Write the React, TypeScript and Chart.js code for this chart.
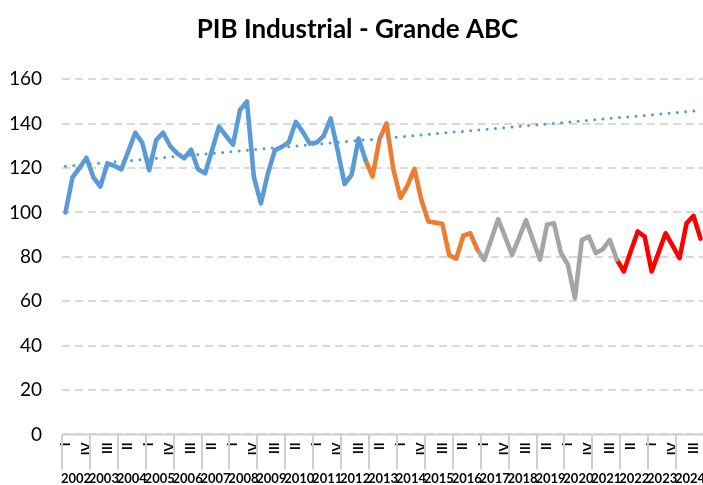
import React, { useEffect, useRef } from 'react';
import { Chart, registerables } from 'chart.js';

Chart.register(...registerables);

const years = ['2002', '2003', '2004', '2005', '2006', '2007', '2008', '2009', '2010', '2011', '2012', '2013', '2014', '2015', '2016', '2017', '2018', '2019', '2020', '2021', '2022', '2023', '2024'];
const quarters = ['I', 'II', 'III', 'IV'];

// Segment 1 (blue): 2002-I .. 2012-IV
const blueStart = 0;
const blueValues = [100, 115.8, 120, 124.6, 115.8, 111.6, 122, 121, 119.4, 127.5, 135.9, 131.4, 119, 132.6, 135.9, 129.9, 126.6, 124.4, 128.2, 119.4, 117.6, 128, 138.6, 134.5, 130.5, 146, 150, 116, 104, 117.5, 128, 129.5, 131.6, 140.8, 136.3, 131, 131.5, 134.5, 142.3, 128, 112.8, 116.9, 133.3, 123.6];
// Segment 2 (orange): 2012-IV .. 2016-IV
const orangeStart = 43;
const orangeValues = [123.6, 116.1, 133, 140.1, 119.1, 106.6, 112, 119.6, 105.6, 95.9, 95.4, 94.9, 80.6, 79.2, 89.5, 90.6, 83.4];
// Segment 3 (gray): 2016-IV .. 2021-IV
const grayStart = 59;
const grayValues = [83.4, 78.6, 87.7, 97, 89, 80.9, 88.6, 96.5, 87.5, 78.7, 94.4, 95.1, 81.7, 76.4, 61.4, 87.6, 89.1, 81.7, 83.4, 87.6, 78.8];
// Segment 4 (red): 2021-IV .. 2024-IV
const redStart = 79;
const redValues = [78.8, 73.4, 82.4, 91.4, 89.1, 73.4, 82, 90.6, 85, 79.4, 95.1, 98.4, 88.2];
// Linear trend line endpoints
const trendStartValue = 120.8;
const trendEndValue = 145.9;

const yTicks = [0, 20, 40, 60, 80, 100, 120, 140, 160];

const quarterLabels = years.flatMap(() => quarters);
const N = quarterLabels.length;

function place(start: number, values: number[]) {
  const arr: (number | null)[] = new Array(N).fill(null);
  values.forEach((v, i) => {
    arr[start + i] = v;
  });
  return arr;
}

const FONT = 'Lato, "Liberation Sans", sans-serif';
const SEP = '#d0d0d0';
const SEP_LENGTH = 35;

// Draws the category-axis line and the year separators using the x scale's own pixel mapping
const yearSeparators = {
  id: 'yearSeparators',
  afterDatasetsDraw(chart: any) {
    const x = chart.scales.x;
    if (!x) return;
    const ctx = chart.ctx;
    const half = (x.getPixelForValue(1) - x.getPixelForValue(0)) / 2;
    ctx.save();
    ctx.strokeStyle = SEP;
    ctx.lineWidth = 2;
    ctx.setLineDash([]);
    ctx.beginPath();
    ctx.moveTo(x.left, x.top);
    ctx.lineTo(x.right, x.top);
    for (let k = 0; k <= years.length; k++) {
      const px = Math.round(x.getPixelForValue(k * quarters.length) - half);
      ctx.moveTo(px, x.top);
      ctx.lineTo(px, x.top + SEP_LENGTH);
    }
    ctx.stroke();
    ctx.restore();
  },
};

export default function App() {
  const ref = useRef<HTMLCanvasElement | null>(null);

  useEffect(() => {
    if (!ref.current) return;
    const trend: (number | null)[] = new Array(N).fill(null);
    trend[0] = trendStartValue;
    trend[N - 1] = trendEndValue;

    const lineCommon = {
      borderWidth: 4.6,
      pointRadius: 0,
      tension: 0,
      borderJoinStyle: 'round' as const,
      borderCapStyle: 'round' as const,
      fill: false,
      spanGaps: false,
    };

    const chart = new Chart(ref.current, {
      type: 'line',
      plugins: [yearSeparators],
      data: {
        labels: quarterLabels,
        datasets: [
          {
            label: 'Tendência',
            data: trend,
            borderColor: '#5B9BD5',
            borderWidth: 3,
            borderDash: [0, 8.3],
            borderCapStyle: 'round',
            pointRadius: 0,
            spanGaps: true,
            fill: false,
          },
          { label: 'A', data: place(blueStart, blueValues), borderColor: '#5B9BD5', ...lineCommon },
          { label: 'B', data: place(orangeStart, orangeValues), borderColor: '#ED7D31', ...lineCommon },
          { label: 'C', data: place(grayStart, grayValues), borderColor: '#A5A5A5', ...lineCommon },
          { label: 'D', data: place(redStart, redValues), borderColor: '#FF0000', ...lineCommon },
        ],
      },
      options: {
        responsive: false,
        animation: false,
        devicePixelRatio: 1,
        layout: { padding: { left: 11, right: 8, top: 0, bottom: 0 } },
        plugins: {
          legend: { display: false },
          tooltip: { enabled: false },
          title: {
            display: true,
            text: 'PIB Industrial - Grande ABC',
            color: '#000',
            font: { family: FONT, size: 26, weight: 'bold' },
            padding: { top: 14, bottom: 34 },
          },
        },
        scales: {
          x: {
            type: 'category',
            position: 'bottom',
            offset: true,
            afterFit: (scale: any) => {
              scale.height = 22;
            },
            grid: {
              display: true,
              drawOnChartArea: false,
              drawTicks: true,
              tickLength: SEP_LENGTH,
              offset: true,
              color: 'rgba(0,0,0,0)',
              tickColor: 'rgba(0,0,0,0)',
            },
            border: { display: false },
            ticks: {
              autoSkip: false,
              minRotation: 90,
              maxRotation: 90,
              padding: -27,
              color: '#000',
              font: { family: FONT, size: 13, weight: 'bold' },
              callback: function (this: any, value: any, index: number) {
                return index % 3 === 0 ? this.getLabelForValue(value) : '';
              },
            },
          },
          xYear: {
            type: 'category',
            position: 'bottom',
            labels: years,
            offset: true,
            grid: {
              display: true,
              drawOnChartArea: false,
              drawTicks: true,
              tickLength: 15,
              color: 'rgba(0,0,0,0)',
              tickColor: 'rgba(0,0,0,0)',
            },
            border: { display: false },
            ticks: {
              autoSkip: false,
              minRotation: 0,
              maxRotation: 0,
              padding: 0,
              color: '#000',
              font: { family: FONT, size: 13, weight: 'bold' },
            },
          },
          y: {
            min: yTicks[0],
            max: yTicks[yTicks.length - 1],
            afterBuildTicks: (scale: any) => {
              scale.ticks = yTicks.map((v) => ({ value: v }));
            },
            afterFit: (scale: any) => {
              scale.width = 51;
            },
            ticks: {
              padding: 20,
              color: '#000',
              font: { family: FONT, size: 19 },
            },
            grid: { color: '#d9d9d9', lineWidth: 2, drawTicks: false },
            border: { display: false, dash: [8, 5] },
          },
        },
      },
    });
    return () => chart.destroy();
  }, []);

  return (
    <div style={{ position: 'fixed', left: 0, top: 0, width: 703, height: 485, overflow: 'hidden', background: '#fff' }}>
      <canvas ref={ref} width={712} height={487} style={{ display: 'block', width: 712, height: 487 }} />
    </div>
  );
}
